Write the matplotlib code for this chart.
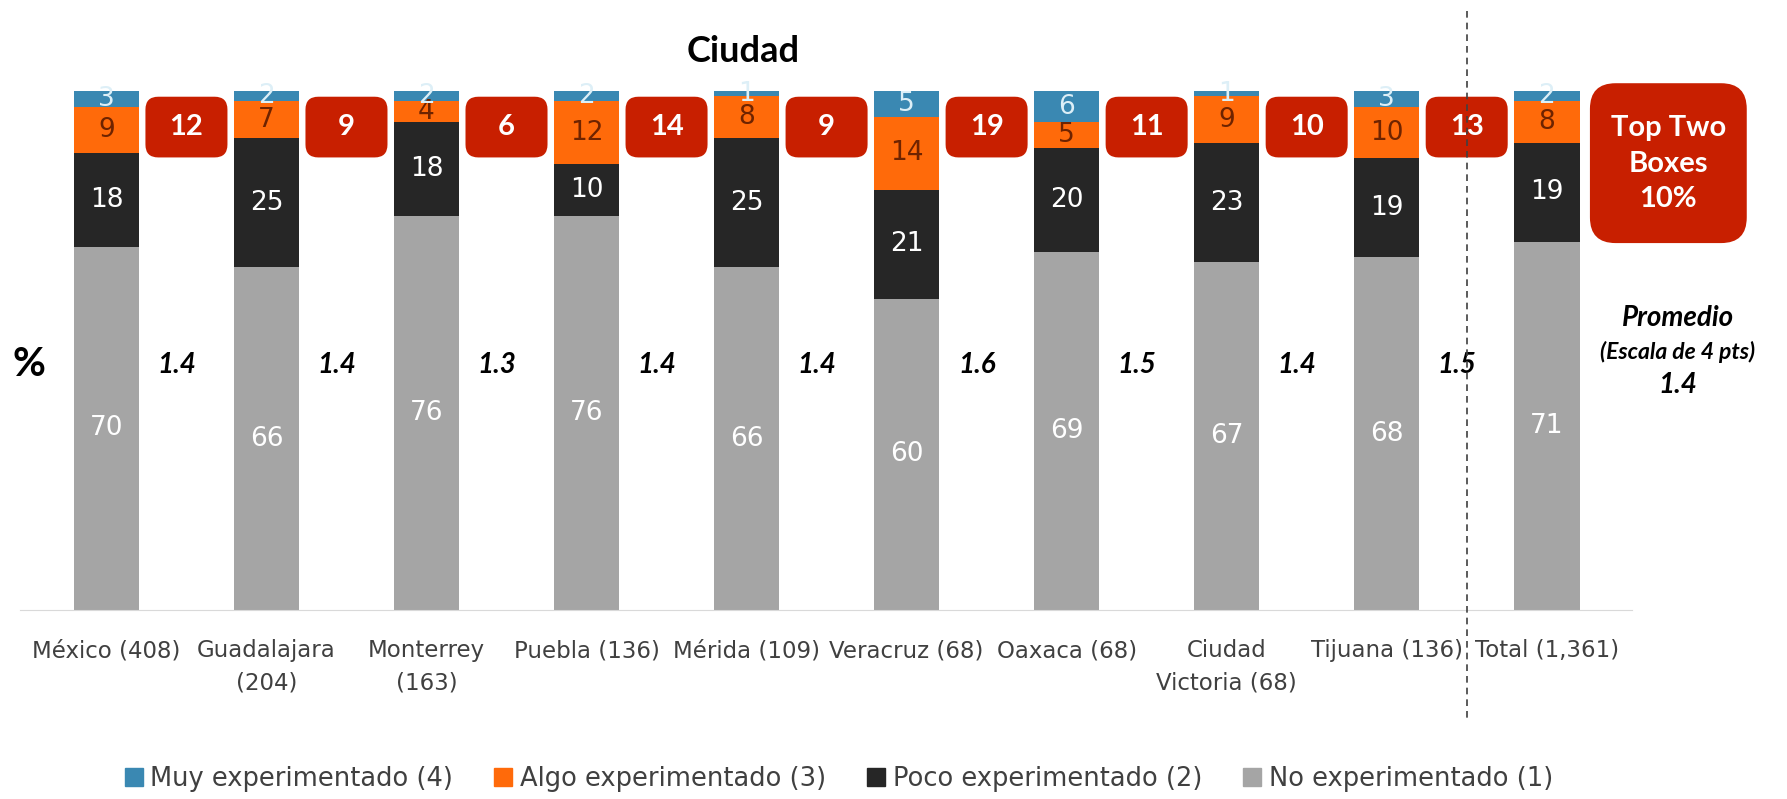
import matplotlib
matplotlib.use("Agg")
import matplotlib.pyplot as plt
from matplotlib.patches import FancyBboxPatch, Patch
import numpy as np

ciudades = ["México (408)", "Guadalajara\n(204)", "Monterrey\n(163)", "Puebla (136)",
            "Mérida (109)", "Veracruz (68)", "Oaxaca (68)", "Ciudad\nVictoria (68)",
            "Tijuana (136)", "Total (1,361)"]
no_exp = [70, 66, 76, 76, 66, 60, 69, 67, 68, 71]
poco_exp = [18, 25, 18, 10, 25, 21, 20, 23, 19, 19]
algo_exp = [9, 7, 4, 12, 8, 14, 5, 9, 10, 8]
muy_exp = [3, 2, 2, 2, 1, 5, 6, 1, 3, 2]
top_two = [12, 9, 6, 14, 9, 19, 11, 10, 13]
promedios = ["1.4", "1.4", "1.3", "1.4", "1.4", "1.6", "1.5", "1.4", "1.5"]
top_two_total = "10%"
promedio_total = "1.4"

series = [
    ("No experimentado (1)", no_exp, "#A5A5A5", "white"),
    ("Poco experimentado (2)", poco_exp, "#262626", "white"),
    ("Algo experimentado (3)", algo_exp, "#FF6A0A", "#6E2300"),
    ("Muy experimentado (4)", muy_exp, "#3A88B2", "#DDEFF7"),
]
rojo = "#C81F00"

regular = ["DejaVu Sans"]
bold_font = ["Lato", "DejaVu Sans"]

fig = plt.figure(figsize=(17.87, 7.99), dpi=100)
ax = fig.add_axes([0.0112, 0.2365, 0.9018, 0.6496])

x = np.arange(len(ciudades))
ancho = 0.41
base = np.zeros(len(ciudades))
for nombre, vals, color, txtcol in series:
    vals = np.array(vals, dtype=float)
    ax.bar(x, vals, ancho, bottom=base, color=color, label=nombre, zorder=2)
    for xi, b, v in zip(x, base, vals):
        ax.text(xi, b + v / 2, f"{int(v)}", ha="center", va="center",
                fontsize=19, color=txtcol, family=regular, zorder=3)
    base += vals

ax.set_xlim(-0.54, 9.53)
ax.set_ylim(0, 100)
ax.set_yticks([])
ax.set_xticks(x)
ax.set_xticklabels(ciudades, family=regular, fontsize=16.5, color="#404040",
                   linespacing=1.5)
ax.tick_params(axis="x", length=0, pad=21)
for s in ["top", "right", "left"]:
    ax.spines[s].set_visible(False)
ax.spines["bottom"].set_color("#D9D9D9")

# cajas rojas con top two boxes
px_x = 1 / 160.0
px_y = 100 / 519.0
asp = px_y / px_x
for i, val in enumerate(top_two):
    cx = i + 0.5
    w = 82 * px_x
    y0, y1 = 87.2, 98.9
    caja = FancyBboxPatch((cx - w / 2, y0), w, y1 - y0,
                          boxstyle="round,pad=0,rounding_size=0.08",
                          mutation_aspect=asp, fc=rojo, ec="none",
                          clip_on=False, zorder=4)
    ax.add_patch(caja)
    ax.text(cx, (y0 + y1) / 2, str(val), ha="center", va="center", color="white",
            fontsize=21, fontweight="bold", family=bold_font, zorder=5)
    ax.text(cx - 0.06, 47.2, promedios[i], ha="center", va="center",
            fontsize=20, fontweight="bold", style="italic", family=bold_font,
            zorder=5)

caja_t = FancyBboxPatch((9.27, 70.7), 0.98, 30.8,
                        boxstyle="round,pad=0,rounding_size=0.16",
                        mutation_aspect=asp, fc=rojo, ec="none",
                        clip_on=False, zorder=4)
ax.add_patch(caja_t)
ax.text(9.76, 86.0, "Top Two\nBoxes\n" + top_two_total, ha="center", va="center",
        color="white", fontsize=21, fontweight="bold", family=bold_font,
        linespacing=1.45, zorder=5)

ax.text(9.82, 56.3, "Promedio", ha="center", va="center", fontsize=20,
        fontweight="bold", style="italic", family=bold_font)
ax.text(9.82, 49.7, "(Escala de 4 pts)", ha="center", va="center", fontsize=16.5,
        fontweight="bold", style="italic", family=bold_font)
ax.text(9.82, 43.4, promedio_total, ha="center", va="center", fontsize=20,
        fontweight="bold", style="italic", family=bold_font)

# linea punteada antes del total
ax.plot([8.5, 8.5], [115.4, -21.2], color="#404040", lw=1.2,
        linestyle=(0, (4, 3)), clip_on=False, zorder=6)

fig.text(743 / 1787, 1 - 51 / 799, "Ciudad", ha="center", va="center",
         fontsize=26, fontweight="bold", family=bold_font)
fig.text(29 / 1787, 1 - 365 / 799, "%", ha="center", va="center",
         fontsize=29, fontweight="bold", family=bold_font)

handles = [Patch(color=c, label=n) for n, v, c, t in reversed(series)]
fig.legend(handles=handles, loc="center", bbox_to_anchor=(0.4695, 0.025),
           ncol=4, frameon=False, handlelength=0.7, handleheight=0.7,
           handletextpad=0.3, columnspacing=1.6,
           prop={"family": regular, "size": 18.5}, labelcolor="#404040")

fig.savefig("out.png", dpi=100, facecolor="white")
